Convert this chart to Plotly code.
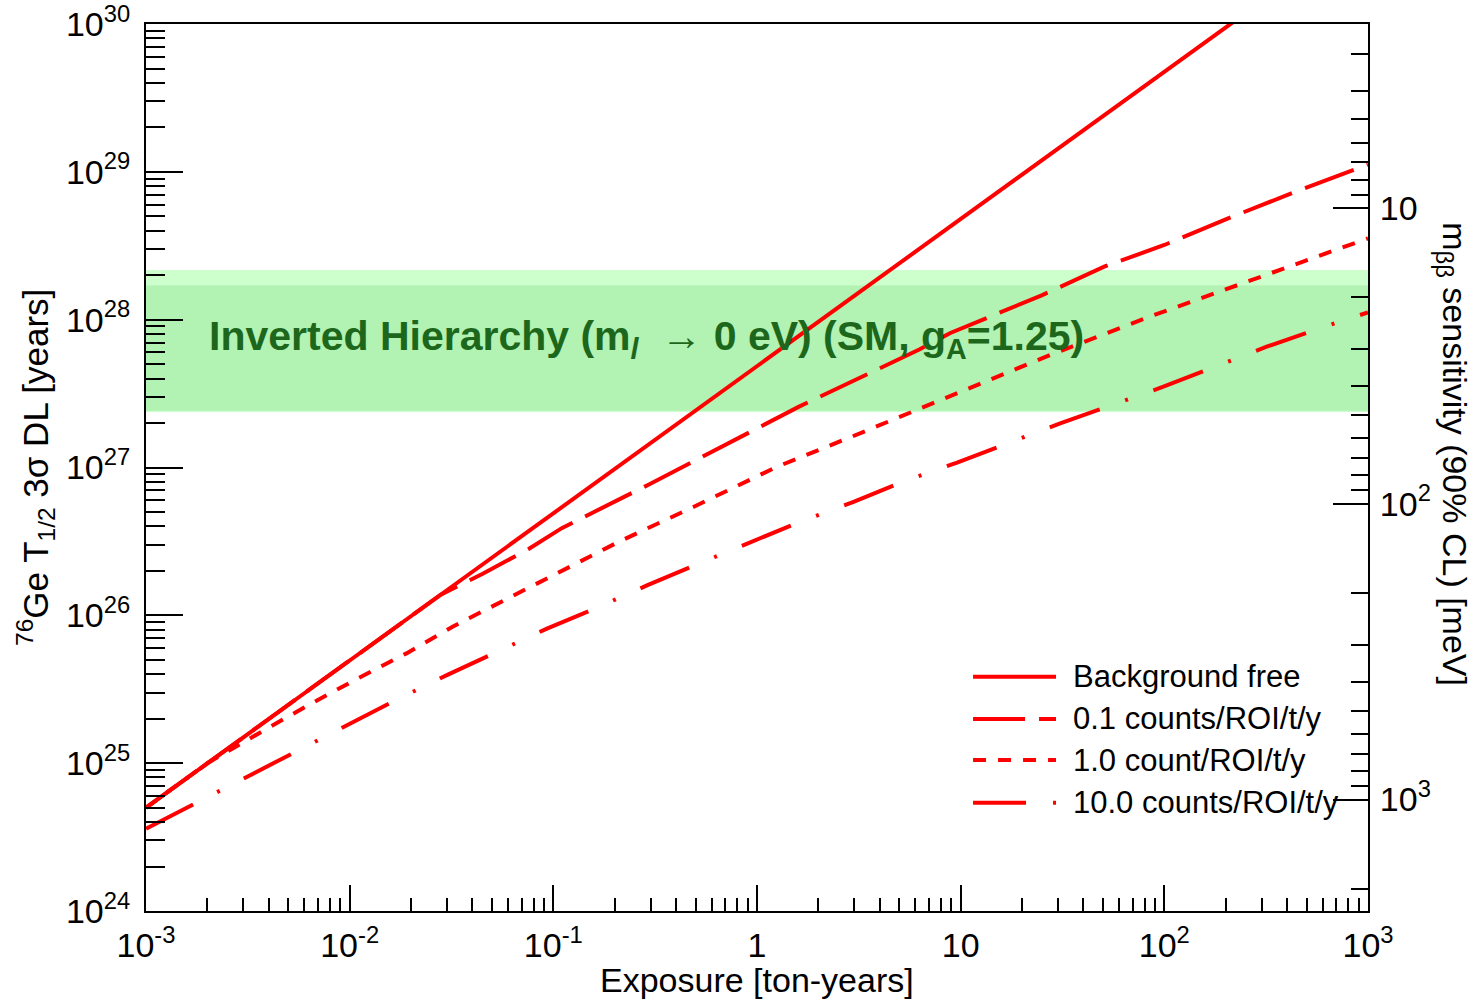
import plotly.graph_objects as go

# ---- sensitivity curves: exposure [ton-years] vs 76Ge T1/2 3-sigma discovery level [years]
exposure_bkg_free = [0.001, 0.01, 0.1, 1, 10, 100, 1000]
halflife_bkg_free = [5.0e24, 4.95e25, 4.9e26, 4.85e27, 4.8e28, 4.75e29, 4.7e30]

exposure_bkg_0p1 = [0.001, 0.01, 0.028, 0.045, 0.076, 0.11, 0.29, 1.6, 6.3, 8.9,
                    25, 51, 100, 210, 430, 1000]
halflife_bkg_0p1 = [5.0e24, 4.95e25, 1.38e26, 1.91e26, 2.82e26, 3.89e26, 7.59e26,
                    2.57e27, 6.31e27, 8.13e27, 1.46e28, 2.29e28, 3.2e28, 4.9e28,
                    7.24e28, 1.12e29]

exposure_bkg_1 = [0.001, 0.002, 0.0038, 0.0065, 0.011, 0.019, 0.032, 0.054, 0.1,
                  0.21, 0.49, 1.25, 2.9, 6.6, 9.3, 27.5, 85, 264, 1000]
halflife_bkg_1 = [5.0e24, 1.0e25, 1.67e25, 2.54e25, 3.75e25, 5.53e25, 8.38e25,
                  1.21e26, 1.84e26, 3.15e26, 5.43e26, 1.01e27, 1.61e27, 2.58e27,
                  3.09e27, 5.77e27, 1.05e28, 1.85e28, 3.55e28]

exposure_bkg_10 = [0.001, 0.0018, 0.0033, 0.0055, 0.0098, 0.0167, 0.030, 0.052,
                   0.093, 0.16, 0.29, 0.51, 0.93, 1.63, 3.0, 5.2, 9.6, 16.8, 30.8,
                   54, 99, 174, 318, 560, 1000]
halflife_bkg_10 = [3.6e24, 5.48e24, 8.45e24, 1.21e25, 1.84e25, 2.65e25, 3.94e25,
                   5.58e25, 8.13e25, 1.11e26, 1.60e26, 2.22e26, 3.10e26, 4.30e26,
                   5.87e26, 8.02e26, 1.08e27, 1.44e27, 1.99e27, 2.61e27, 3.52e27,
                   4.75e27, 6.56e27, 8.61e27, 1.12e28]

series_labels = ["Background free", "0.1 counts/ROI/t/y",
                 "1.0 count/ROI/t/y", "10.0 counts/ROI/t/y"]

# ---- inverted-hierarchy band, expressed on the half-life axis
ih_outer = [2.37e27, 2.17e28]
ih_inner = [2.42e27, 1.70e28]
ih_label = "Inverted Hierarchy (m<sub><i>l</i></sub>  \u2192 0 eV) (SM, g<sub>A</sub>=1.25)"

# ---- axis ticks and titles
x_tickvals = [1e-3, 1e-2, 1e-1, 1, 10, 100, 1000]
x_ticktext = ["10<sup>-3</sup>", "10<sup>-2</sup>", "10<sup>-1</sup>", "1", "10",
              "10<sup>2</sup>", "10<sup>3</sup>"]
y_tickvals = [1e24, 1e25, 1e26, 1e27, 1e28, 1e29, 1e30]
y_ticktext = ["10<sup>%d</sup>" % p for p in range(24, 31)]
mbb_tickvals = [10, 100, 1000]
mbb_ticktext = ["10", "10<sup>2</sup>", "10<sup>3</sup>"]

x_title = "Exposure [ton-years]"
y_title = "<sup>76</sup>Ge T<sub>1/2</sub> 3\u03c3 DL [years]"
y2_title = "m<sub>\u03b2\u03b2</sub> sensitivity (90% CL) [meV]"

x_minor = [m * 10.0 ** p for p in range(-3, 3) for m in range(2, 10)]
y_minor = [m * 10.0 ** p for p in range(24, 30) for m in range(2, 10)]
mbb_minor = [m * 10.0 ** p for p in range(0, 4) for m in range(2, 10)
             if 2.4 < m * 10.0 ** p < 2400]

# m_bb axis range (log10, reversed): m_bb ∝ T^-1/2
mbb_log_top, mbb_log_bottom = 0.377, 3.377

FONT = "Liberation Sans, Arial, Helvetica, sans-serif"
RED = "#ff0000"
dashes = ["solid", "52px,14px", "13px,12px", "53px,27px,3px,27px"]
series = [
    (exposure_bkg_free, halflife_bkg_free),
    (exposure_bkg_0p1, halflife_bkg_0p1),
    (exposure_bkg_1, halflife_bkg_1),
    (exposure_bkg_10, halflife_bkg_10),
]

fig = go.Figure()

# IH band (outer lighter, inner darker)
for band, col in [(ih_outer, "#ccffcc"), (ih_inner, "#b2f2b2")]:
    fig.add_trace(go.Scatter(
        x=[x_tickvals[0], x_tickvals[-1], x_tickvals[-1], x_tickvals[0]],
        y=[band[0], band[0], band[1], band[1]],
        fill="toself", fillcolor=col, mode="lines", line=dict(width=0),
        hoverinfo="skip", showlegend=False))

for (ex, hl), dash, name in zip(series, dashes, series_labels):
    fig.add_trace(go.Scatter(
        x=ex, y=hl, mode="lines", name=name, showlegend=False,
        line=dict(color=RED, width=4, dash=dash)))

# empty trace that carries the m_bb axis
fig.add_trace(go.Scatter(x=[], y=[], yaxis="y2", showlegend=False))

# band label
fig.add_annotation(
    x=-2.70, y=27.87, xref="x", yref="y", text=ih_label, showarrow=False,
    xanchor="left", yanchor="middle",
    font=dict(family=FONT, size=41, color="#1c671c", weight="bold"))

# legend drawn as line samples + labels
leg_y = [0.2641, 0.2165, 0.1702, 0.1221]
for yy, dash, name in zip(leg_y, dashes, series_labels):
    fig.add_shape(type="line", xref="paper", yref="paper",
                  x0=0.6768, x1=0.7447, y0=yy, y1=yy,
                  line=dict(color=RED, width=4, dash=dash))
    fig.add_annotation(x=0.7570, y=yy, xref="paper", yref="paper", text=name,
                       showarrow=False, xanchor="left", yanchor="middle",
                       font=dict(family=FONT, size=31, color="black"))

# axis titles
fig.add_annotation(x=0.5, y=-0.078, xref="paper", yref="paper", text=x_title,
                   showarrow=False, xanchor="center", yanchor="middle",
                   font=dict(family=FONT, size=34, color="black"))
fig.add_annotation(x=-0.0905, y=0.5, xref="paper", yref="paper", text=y_title,
                   textangle=-90, showarrow=False, xanchor="center",
                   yanchor="middle",
                   font=dict(family=FONT, size=35, color="black"))
fig.add_annotation(x=1.0696, y=0.515, xref="paper", yref="paper", text=y2_title,
                   textangle=90, showarrow=False, xanchor="center",
                   yanchor="middle",
                   font=dict(family=FONT, size=34, color="black"))

axis_common = dict(showgrid=False, zeroline=False, showline=True,
                   linecolor="black", linewidth=2, ticks="inside",
                   tickcolor="black", tickwidth=2, automargin=False,
                   ticklabeloverflow="allow",
                   tickfont=dict(family=FONT, size=34, color="black"))

fig.update_layout(
    width=1478, height=1002, autosize=False,
    margin=dict(l=146, r=110, t=24, b=91),
    paper_bgcolor="white", plot_bgcolor="white",
    font=dict(family=FONT, color="black"),
    xaxis=dict(
        type="log", range=[-3.00001, 3.00001], mirror=True,
        tickmode="array", tickvals=x_tickvals, ticktext=x_ticktext,
        ticklen=26, ticklabelstandoff=3,
        minor=dict(tickmode="array", tickvals=x_minor, ticks="inside",
                   ticklen=13, tickcolor="black", tickwidth=2, showgrid=False),
        **axis_common),
    yaxis=dict(
        type="log", range=[23.99999, 30.00001], mirror=True,
        tickmode="array", tickvals=y_tickvals, ticktext=y_ticktext,
        ticklen=37, ticklabelstandoff=7,
        minor=dict(tickmode="array", tickvals=y_minor, ticks="inside",
                   ticklen=19, tickcolor="black", tickwidth=2, showgrid=False),
        **axis_common),
    yaxis2=dict(
        type="log", range=[mbb_log_bottom, mbb_log_top], overlaying="y",
        side="right", anchor="x",
        tickmode="array", tickvals=mbb_tickvals, ticktext=mbb_ticktext,
        ticklen=35, ticklabelstandoff=3,
        minor=dict(tickmode="array", tickvals=mbb_minor, ticks="inside",
                   ticklen=17, tickcolor="black", tickwidth=2, showgrid=False),
        **axis_common),
)

fig.write_html("out.html")
